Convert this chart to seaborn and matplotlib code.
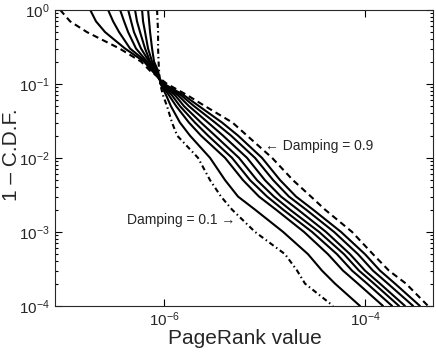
import pandas as pd
import seaborn as sns
import matplotlib.pyplot as plt
from matplotlib.ticker import NullLocator, LogLocator

# 1 - CDF levels shared by every curve
ccdf = [1, 0.7, 0.5, 0.3, 0.2, 0.15, 0.1, 0.07, 0.05, 0.03, 0.02, 0.01,
        5e-3, 3e-3, 2e-3, 1e-3, 5e-4, 3e-4, 2e-4, 1e-4]

# PageRank value reached at each level, one list per damping factor
pr_d01 = [8.52e-7, 8.62e-7, 8.72e-7, 8.72e-7, 8.82e-7, 8.92e-7, 9.13e-7, 9.77e-7, 1.07e-6, 1.20e-6,
          1.35e-6, 2.18e-6, 2.87e-6, 3.69e-6, 4.75e-6, 8.04e-6, 1.60e-5, 2.11e-5, 2.53e-5, 4.81e-5]
pr_d02 = [6.93e-7, 7.10e-7, 7.26e-7, 7.60e-7, 7.95e-7, 8.72e-7, 9.23e-7, 1.05e-6, 1.17e-6, 1.44e-6,
          1.81e-6, 2.87e-6, 4.05e-6, 5.45e-6, 8.04e-6, 1.53e-5, 2.71e-5, 3.73e-5, 5.03e-5, 8.91e-5]
pr_d03 = [6.04e-7, 6.18e-7, 6.47e-7, 6.93e-7, 7.60e-7, 8.52e-7, 9.34e-7, 1.12e-6, 1.32e-6, 1.77e-6,
          2.33e-6, 4.05e-6, 6.11e-6, 8.81e-6, 1.30e-5, 2.47e-5, 4.28e-5, 6.04e-5, 8.51e-5, 1.51e-4]
pr_d04 = [5.14e-7, 5.38e-7, 5.77e-7, 6.47e-7, 7.26e-7, 8.32e-7, 9.44e-7, 1.20e-6, 1.44e-6, 2.03e-6,
          2.74e-6, 4.75e-6, 7.18e-6, 1.06e-5, 1.53e-5, 2.97e-5, 5.26e-5, 7.43e-5, 1.05e-4, 1.86e-4]
pr_d05 = [4.39e-7, 4.70e-7, 5.02e-7, 5.90e-7, 7.10e-7, 8.13e-7, 9.55e-7, 1.29e-6, 1.58e-6, 2.33e-6,
          3.22e-6, 5.57e-6, 8.42e-6, 1.24e-5, 1.79e-5, 3.49e-5, 6.18e-5, 8.71e-5, 1.23e-4, 2.18e-4]
pr_d06 = [3.65e-7, 4.00e-7, 4.39e-7, 5.26e-7, 6.78e-7, 7.95e-7, 9.66e-7, 1.38e-6, 1.77e-6, 2.74e-6,
          3.86e-6, 6.70e-6, 1.01e-5, 1.46e-5, 2.15e-5, 4.09e-5, 7.10e-5, 1.00e-4, 1.41e-4, 2.50e-4]
pr_d07 = [2.77e-7, 3.11e-7, 3.57e-7, 4.59e-7, 6.62e-7, 7.78e-7, 9.77e-7, 1.48e-6, 1.99e-6, 3.22e-6,
          4.64e-6, 8.04e-6, 1.22e-5, 1.75e-5, 2.59e-5, 4.92e-5, 8.51e-5, 1.20e-4, 1.69e-4, 3.01e-4]
pr_d08 = [1.84e-7, 2.10e-7, 2.59e-7, 4.09e-7, 6.32e-7, 7.60e-7, 1.00e-6, 1.58e-6, 2.23e-6, 3.78e-6,
          5.45e-6, 9.44e-6, 1.43e-5, 2.06e-5, 3.04e-5, 5.77e-5, 1.00e-4, 1.41e-4, 1.99e-4, 3.52e-4]
pr_d09 = [9.23e-8, 1.16e-7, 1.71e-7, 3.61e-7, 5.90e-7, 7.26e-7, 1.07e-6, 1.71e-6, 2.56e-6, 4.80e-6,
          6.70e-6, 1.19e-5, 1.92e-5, 2.90e-5, 4.00e-5, 7.43e-5, 1.20e-4, 1.73e-4, 2.56e-4, 4.24e-4]

damping = ["0.1", "0.2", "0.3", "0.4", "0.5", "0.6", "0.7", "0.8", "0.9"]
series = [pr_d01, pr_d02, pr_d03, pr_d04, pr_d05, pr_d06, pr_d07, pr_d08, pr_d09]

rows = []
for d, vals in zip(damping, series):
    for v, c in zip(vals, ccdf):
        rows.append({"damping": d, "pagerank": v, "ccdf": c})
df = pd.DataFrame(rows)

sns.set_style("ticks")
plt.rcParams["font.family"] = ["Liberation Sans", "DejaVu Sans"]
plt.rcParams["mathtext.fontset"] = "custom"
plt.rcParams["mathtext.rm"] = "Liberation Sans"
plt.rcParams["mathtext.it"] = "Liberation Sans:italic"
plt.rcParams["axes.linewidth"] = 0.8

fig = plt.figure(figsize=(4.36, 3.52), dpi=100)
ax = fig.add_axes([0.126, 0.131, 0.867, 0.841])

# solid for the middle values, dash-dot for 0.1, dashed for 0.9
dash_map = {d: "" for d in damping}
dash_map["0.1"] = (2.5, 1.5, 0.7, 1.5)
dash_map["0.9"] = (3, 2)

sns.lineplot(data=df, x="pagerank", y="ccdf", style="damping", dashes=dash_map,
             color="black", linewidth=1.5, sort=False, estimator=None,
             legend=False, ax=ax)

ax.set_xscale("log")
ax.set_yscale("log")
ax.set_xlim(8.2e-8, 4.75e-4)
ax.set_ylim(1e-4, 1)
ax.set_xticks([1e-6, 1e-4])
ax.xaxis.set_minor_locator(NullLocator())
ax.yaxis.set_major_locator(LogLocator(base=10, numticks=10))
ax.yaxis.set_minor_locator(LogLocator(base=10, subs=range(2, 10), numticks=20))
ax.tick_params(which="both", direction="in", top=True, right=True, labelsize=11,
               width=0.8, color="black")
ax.tick_params(which="major", length=5)
ax.tick_params(which="minor", length=2.5)

ax.set_xlabel("PageRank value", fontsize=15)
ax.set_ylabel("1 – C.D.F.", fontsize=15)
ax.xaxis.set_label_coords(0.503, -0.078)
ax.yaxis.set_label_coords(-0.09, 0.51)

ax.text(1.0e-5, 0.0145, "← Damping = 0.9", ha="left", va="center", fontsize=10)
ax.text(5.1e-6, 1.45e-3, "Damping = 0.1 →", ha="right", va="center", fontsize=10)

fig.savefig("out.png", dpi=100)
